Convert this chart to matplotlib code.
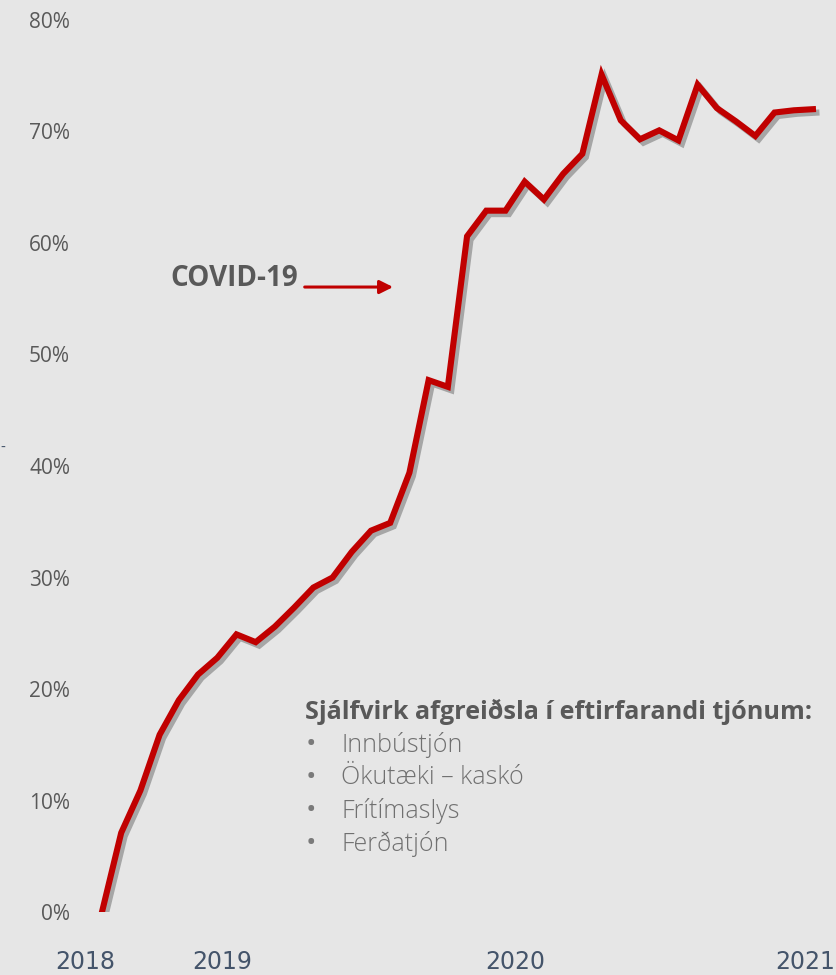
import matplotlib.pyplot as plt
import matplotlib.patheffects as pe
from matplotlib.ticker import FuncFormatter

# share of claims handled automatically, monthly, in %
share = [0, 7.1, 10.9, 15.9, 19.0, 21.3, 22.8, 24.9, 24.2, 25.6,
         27.3, 29.1, 30.0, 32.3, 34.2, 34.9, 39.4, 47.7, 47.1, 60.6,
         62.9, 62.9, 65.5, 63.9, 66.2, 68.0, 75.1, 71.0, 69.3, 70.1,
         69.2, 74.2, 72.1, 70.9, 69.6, 71.7, 71.9, 72.0]
months = list(range(len(share)))

year_labels = ['2018', '2019', '2020', '2021']
year_pos = [-0.88, 6.24, 21.5, 36.6]

box_title = 'Sjálfvirk afgreiðsla í eftirfarandi tjónum:'
box_items = ['Innbústjón', 'Ökutæki – kaskó', 'Frítímaslys', 'Ferðatjón']

bg = '#e6e6e6'
red = '#c00000'
grey = '#595959'

fig = plt.figure(figsize=(8.36, 9.75), dpi=100, facecolor=bg)
ax = fig.add_axes([0.0944, 0.0646, 0.8918, 0.9149], facecolor=bg)

ax.plot(months, share, color=red, lw=4.4, solid_joinstyle='miter',
        path_effects=[pe.SimpleLineShadow(offset=(2.5, -2.5), shadow_color='black', alpha=0.28),
                      pe.Normal()])

ax.set_xlim(-1.2, 37.6)
ax.set_ylim(0, 80)
ax.set_yticks(range(0, 81, 10))
ax.yaxis.set_major_formatter(FuncFormatter(lambda v, p: f'{v:.0f}%'))
ax.set_xticks(year_pos)
ax.set_xticklabels(year_labels)

for s in ax.spines.values():
    s.set_visible(False)
ax.tick_params(axis='y', length=0, pad=6.4, labelcolor=grey, labelsize=15)
ax.tick_params(axis='x', length=0, pad=27, labelcolor='#44546a', labelsize=17)
for t in ax.get_yticklabels():
    t.set_family(['Open Sans', 'DejaVu Sans'])
for t in ax.get_xticklabels():
    t.set_family(['Liberation Sans Narrow', 'DejaVu Sans'])

# COVID-19 marker
ax.text(10.2, 56.8, 'COVID-19', ha='right', va='center', fontsize=20,
        fontweight='bold', color=grey, family=['Open Sans', 'DejaVu Sans'])
ax.annotate('', xy=(15.15, 56.05), xytext=(10.55, 56.05),
            arrowprops=dict(arrowstyle='-|>', color=red, lw=2.2,
                            mutation_scale=20, shrinkA=0, shrinkB=0))

# text box
fig.text(305 / 836, 1 - 712 / 975, box_title, ha='left', va='center',
         fontsize=18.2, fontweight='bold', color=grey, family=['Open Sans', 'DejaVu Sans'])
for i, item in enumerate(box_items):
    y = 1 - (745 + 33 * i) / 975
    fig.text(311 / 836, y, '•', ha='center', va='center', fontsize=20,
             color='#7a7a7a', family=['Open Sans', 'DejaVu Sans'])
    fig.text(341 / 836, y, item, ha='left', va='center', fontsize=18,
             fontweight='light', color='#707070', family=['Open Sans', 'DejaVu Sans'])

# stray mark at left edge
fig.text(0.0, 1 - 448 / 975, '-', ha='left', va='center', fontsize=10,
         color='#44546a')

fig.savefig('out.png', dpi=100, facecolor=bg)
